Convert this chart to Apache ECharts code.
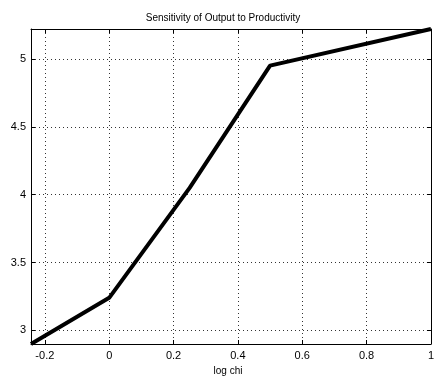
<!DOCTYPE html>
<html>
<head>
<meta charset="utf-8">
<script src="https://cdn.jsdelivr.net/npm/echarts@6/dist/echarts.min.js"></script>
<style>
  html, body { margin: 0; padding: 0; background: #fff; }
  #chart { width: 437px; height: 381px; }
</style>
</head>
<body>
<div id="chart"></div>
<script>
// Output response as a function of log chi
const logChi = [-0.243, 0, 0.25, 0.5, 1];
const output = [2.90, 3.24, 4.05, 4.95, 5.22];
const xTicks = [-0.2, 0, 0.2, 0.4, 0.6, 0.8, 1];
const yTicks = [3, 3.5, 4, 4.5, 5];

const chart = echarts.init(document.getElementById('chart'), null, { renderer: 'canvas' });
const font = 'Liberation Sans, Arial, sans-serif';
const gridStyle = { color: '#333', width: 1, type: [1, 3] };

function axisBase(extra) {
  return Object.assign({
    type: 'value',
    axisLine: { show: true, onZero: false, lineStyle: { color: '#000', width: 1 } },
    axisTick: { show: true, inside: true, length: 4, lineStyle: { color: '#000' } },
    splitLine: { show: false },
    axisLabel: { show: false }
  }, extra);
}

chart.setOption({
  animation: false,
  backgroundColor: '#fff',
  title: {
    text: 'Sensitivity of Output to Productivity',
    left: 218, top: 8, textAlign: 'center',
    textStyle: { fontFamily: font, fontSize: 10, fontWeight: 'normal', color: '#000' }
  },
  grid: { left: 31, right: 1, top: 29, bottom: 37, containLabel: false },
  xAxis: [
    axisBase({
      min: -0.243, max: 1, position: 'bottom',
      name: 'log chi', nameLocation: 'middle', nameGap: 18,
      nameTextStyle: { fontFamily: font, fontSize: 10, color: '#000', padding: [0, 6, 0, 0] },
      axisTick: { show: true, inside: true, length: 4, customValues: xTicks, lineStyle: { color: '#000' } },
      axisLabel: { show: true, customValues: xTicks, margin: 6, fontFamily: font, fontSize: 11, color: '#000',
        formatter: v => String(Math.round(v * 10) / 10) },
      splitLine: { show: true, lineStyle: gridStyle }
    }),
    axisBase({
      min: -0.243, max: 1, position: 'top',
      axisTick: { show: true, inside: true, length: 4, customValues: xTicks, lineStyle: { color: '#000' } }
    })
  ],
  yAxis: [
    axisBase({
      min: 2.9, max: 5.22, position: 'left',
      axisTick: { show: true, inside: true, length: 4, customValues: yTicks, lineStyle: { color: '#000' } },
      axisLabel: { show: true, customValues: yTicks, margin: 5, fontFamily: font, fontSize: 11, color: '#000' },
      splitLine: { show: true, lineStyle: gridStyle }
    }),
    axisBase({
      min: 2.9, max: 5.22, position: 'right',
      axisTick: { show: true, inside: true, length: 4, customValues: yTicks, lineStyle: { color: '#000' } }
    })
  ],
  series: [{
    type: 'line',
    data: logChi.map((x, i) => [x, output[i]]),
    symbol: 'none',
    lineStyle: { color: '#000', width: 4 },
    clip: true
  }]
});
</script>
</body>
</html>
